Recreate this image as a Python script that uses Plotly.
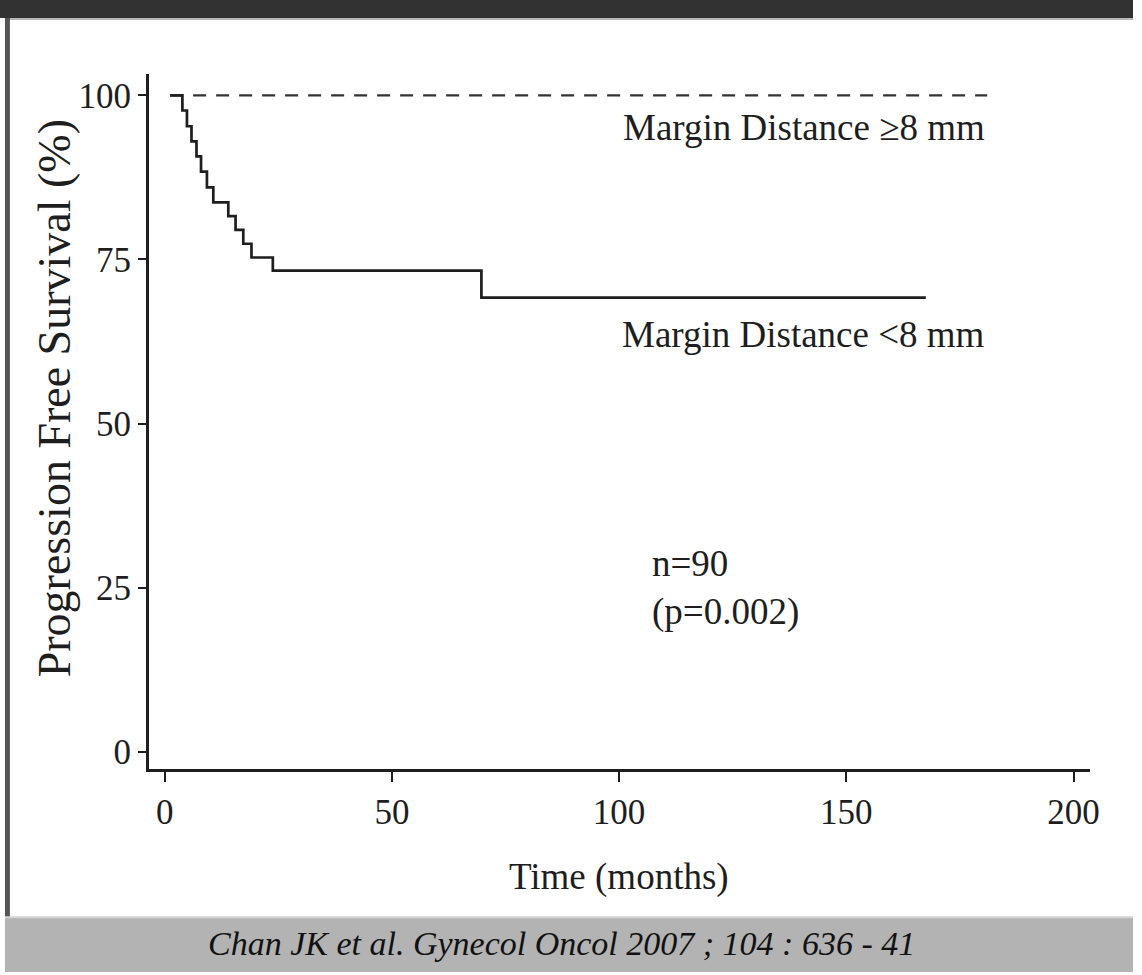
import plotly.graph_objects as go

# ---- data ----
months_lt8 = [1.2, 3.9, 4.9, 5.9, 7.0, 8.0, 9.3, 10.7, 14.0, 15.6, 17.3, 19.1, 23.8, 69.7, 167.5]
surv_lt8 = [100, 97.7, 95.3, 93.0, 90.7, 88.4, 86.0, 83.7, 81.6, 79.5, 77.4, 75.3, 73.3, 69.2, 69.2]
months_ge8 = [1.2, 181.0]
surv_ge8 = [100, 100]
x_ticks = [0, 50, 100, 150, 200]
y_ticks = [0, 25, 50, 75, 100]
label_ge8 = "Margin Distance \u22658 mm"
label_lt8 = "Margin Distance <8 mm"
stats_text = "n=90<br>(p=0.002)"
caption = "Chan JK et al. Gynecol Oncol 2007 ; 104 : 636 - 41"

W, H = 1142, 975
SERIF = "Liberation Serif, Times New Roman, serif"
INK = "#1e1e1e"


def px(x):
    return x / W


def py(y):
    return 1 - y / H


fig = go.Figure()
fig.add_trace(go.Scatter(x=months_ge8, y=surv_ge8, mode="lines",
                         line=dict(color="#333333", width=2.2, dash="13px,10px"),
                         showlegend=False, hoverinfo="skip"))
fig.add_trace(go.Scatter(x=months_lt8, y=surv_lt8, mode="lines", line_shape="hv",
                         line=dict(color=INK, width=2.7),
                         showlegend=False, hoverinfo="skip"))

axis_common = dict(showgrid=False, zeroline=False, showline=True, linecolor=INK,
                   linewidth=2.6, ticks="outside", tickcolor=INK, tickwidth=2.2,
                   tickfont=dict(family=SERIF, size=35, color=INK))

fig.update_layout(
    width=W, height=H, autosize=False,
    margin=dict(l=0, r=0, t=0, b=0),
    paper_bgcolor="white", plot_bgcolor="white",
    xaxis=dict(domain=[px(150), px(1099)], range=[-3.49, 203.7],
               tickvals=x_ticks, ticklen=10, **axis_common),
    yaxis=dict(domain=[py(771.7), py(74)], range=[-2.69, 103.3],
               tickvals=y_ticks, ticklen=8, **axis_common),
)

shapes = [
    # top dark bar
    dict(type="rect", xref="paper", yref="paper", x0=0, x1=1, y0=py(18), y1=1,
         fillcolor="#323232", line_width=0, layer="below"),
    dict(type="rect", xref="paper", yref="paper", x0=px(5), x1=1, y0=py(20), y1=py(18),
         fillcolor="#b8b8b8", line_width=0, layer="below"),
    # left dark strip
    dict(type="rect", xref="paper", yref="paper", x0=px(5), x1=px(10), y0=py(920), y1=py(18),
         fillcolor="#555555", line_width=0, layer="below"),
    # bottom gray band
    dict(type="rect", xref="paper", yref="paper", x0=px(5), x1=1, y0=0, y1=py(920),
         fillcolor="#b3b3b3", line_width=0, layer="below"),
    dict(type="rect", xref="paper", yref="paper", x0=px(5), x1=1, y0=py(921), y1=py(919),
         fillcolor="#d4d4d4", line_width=0, layer="below"),
]
fig.update_layout(shapes=shapes)

annotations = [
    dict(text=label_ge8, xref="paper", yref="paper", x=px(995), y=py(128),
         xanchor="right", yanchor="middle", showarrow=False,
         font=dict(family=SERIF, size=37, color=INK)),
    dict(text=label_lt8, xref="paper", yref="paper", x=px(995), y=py(336),
         xanchor="right", yanchor="middle", showarrow=False,
         font=dict(family=SERIF, size=37, color=INK)),
    dict(text=stats_text, xref="paper", yref="paper", x=px(655), y=py(590),
         xanchor="left", yanchor="middle", align="left", showarrow=False,
         font=dict(family=SERIF, size=37, color=INK)),
    dict(text="Time (months)", xref="paper", yref="paper", x=px(624), y=py(880),
         xanchor="center", yanchor="middle", showarrow=False,
         font=dict(family=SERIF, size=37, color=INK)),
    dict(text="Progression Free Survival (%)", xref="paper", yref="paper",
         x=px(55), y=py(400), xanchor="center", yanchor="middle", textangle=-90,
         showarrow=False, font=dict(family=SERIF, size=46, color=INK)),
    dict(text="<i>" + caption + "</i>", xref="paper", yref="paper", x=px(566), y=py(946),
         xanchor="center", yanchor="middle", showarrow=False,
         font=dict(family=SERIF, size=34, color="#111111")),
]
fig.update_layout(annotations=annotations)

post = (
    "document.documentElement.style.overflow='hidden';"
    "document.body.style.margin='0';document.body.style.overflow='hidden';"
)
fig.write_html("out.html", config={"displayModeBar": False, "responsive": False},
               post_script=post)
